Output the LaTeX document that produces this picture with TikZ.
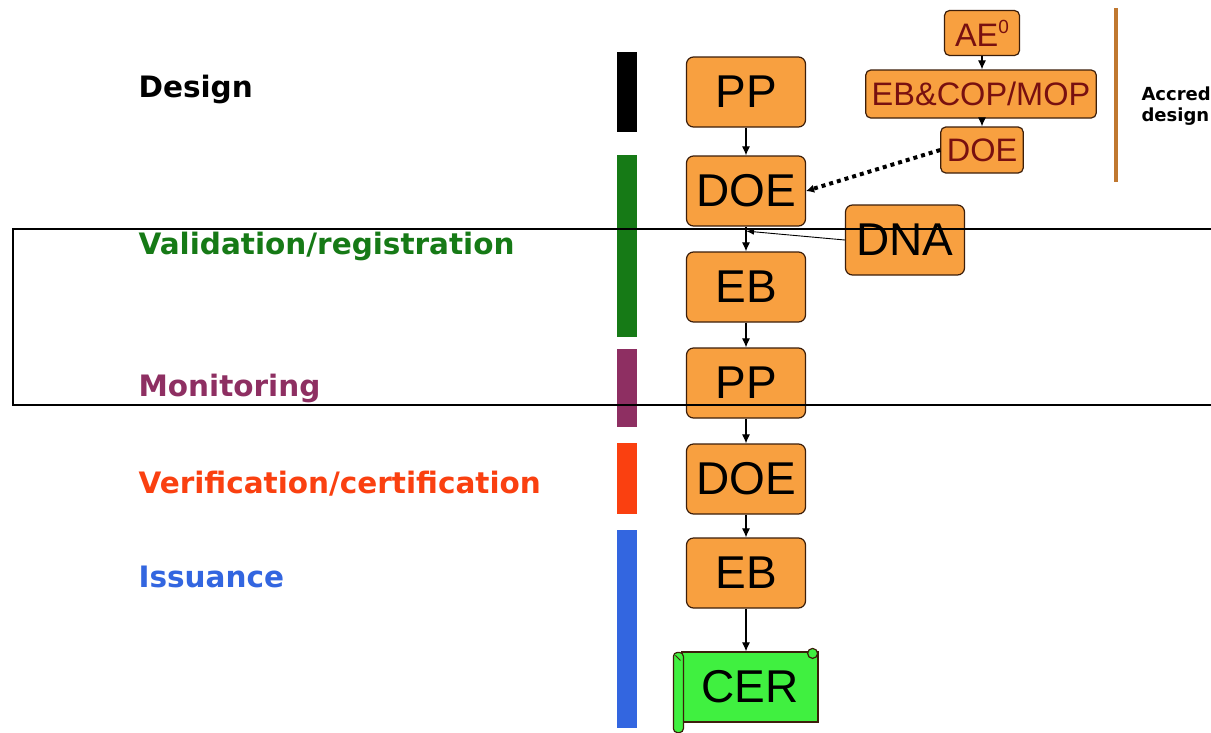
\documentclass[tikz,border=0pt]{standalone}
\usepackage{fontspec}
\setmainfont{Liberation Sans}
\newfontfamily\etiqfont{DejaVu Sans}
\usetikzlibrary{arrows.meta}
\usetikzlibrary{calc,shapes}
\definecolor{orangeboite}{RGB}{248,160,64}
\definecolor{bordboite}{RGB}{60,30,10}
\definecolor{rougefonce}{RGB}{120,16,16}
\definecolor{vertcer}{RGB}{64,240,64}
\definecolor{vertfonce}{RGB}{22,122,22}
\definecolor{violet}{RGB}{142,47,98}
\definecolor{rougeorange}{RGB}{250,64,16}
\definecolor{bleu}{RGB}{51,102,224}
\definecolor{brun}{RGB}{192,120,48}

\begin{document}
\begin{tikzpicture}[x=1pt,y=-1pt,
	boite/.style={draw=bordboite,fill=orangeboite,rounded corners=7pt,line width=1.2pt,
		minimum width=119pt,minimum height=70pt,inner sep=0pt,font=\fontsize{46}{46}\selectfont},
	petite/.style={draw=bordboite,fill=orangeboite,rounded corners=5pt,line width=1.2pt,
		minimum width=75pt,minimum height=45pt,inner xsep=6pt,inner ysep=0pt,
		text=rougefonce,font=\fontsize{32.5}{32.5}\selectfont},
	fleche/.style={-{Latex[length=9pt,width=8pt]},line width=1.1pt},
	etiquette/.style={anchor=base west,font=\etiqfont\bfseries\fontsize{29.5}{30}\selectfont}]
				\clip (0,0) rectangle (1211,732);
				\fill[white] (0,0) rectangle (1211,732);
				% Etapes
				\node[etiquette,text=black] (labdesign) at (135,97) {Design};
				\node[etiquette,text=vertfonce] (labvalid) at (135,254) {Validation/registration};
				\node[etiquette,text=violet] (labmonit) at (135,396) {Monitoring};
				\node[etiquette,text=rougeorange] (labverif) at (135,493) {Verification/certification};
				\node[etiquette,text=bleu] (labissue) at (135,587) {Issuance};
				% Barres
				\fill[black] (617,52) rectangle (637,132);
				\fill[vertfonce] (617,155) rectangle (637,337);
				\fill[violet] (617,349) rectangle (637,427);
				\fill[rougeorange] (617,443) rectangle (637,514);
				\fill[bleu] (617,530) rectangle (637,728);
				% Boites
				\node[boite] (pp1) at (746,92) {PP};
				\node[boite] (doe1) at (746,191) {DOE};
				\node[boite] (eb1) at (746,287) {EB};
				\node[boite] (pp2) at (746,383) {PP};
				\node[boite] (doe2) at (746,479) {DOE};
				\node[boite] (eb2) at (746,573) {EB};
				\node[boite] (dna) at (905,240) {DNA};
				% CER
				\node[draw=bordboite,fill=vertcer,line width=1.2pt,minimum width=136pt,minimum height=70pt,
					inner sep=0pt,font=\fontsize{46}{46}\selectfont] (cer) at (750,687) {CER};
				\draw[draw=bordboite,fill=vertcer,line width=1.2pt] ($(cer.north east)+(-6,2)$) circle (5);
				\draw[draw=bordboite,fill=vertcer,line width=1.2pt,rounded corners=4pt]
					($(cer.north west)+(-8,1)$) rectangle ($(cer.south west)+(2,10)$);
				\draw[draw=bordboite,line width=1pt] ($(cer.north west)+(-6,4)$) -- ($(cer.north west)+(-1,9)$);
				% Accreditation
				\node[petite] (ae) at (982,33) {AE\raisebox{0.75ex}{\fontsize{19}{19}\selectfont 0}};
				\node[petite,minimum height=48pt] (ebcop) at (981,94) {EB\&COP/MOP};
				\node[petite,minimum height=46pt] (does) at (982,150) {DOE};
				\draw[brun,line width=4pt] (1116,8) -- (1116,182);
				\node[anchor=base west,font=\etiqfont\bfseries\fontsize{18}{18}\selectfont] (accred) at (1138,100) {Accred};
				\node[anchor=base west,font=\etiqfont\bfseries\fontsize{18}{18}\selectfont] (desig) at (1138,121) {design};
				% Flèches
				\draw[fleche] (pp1) -- (doe1);
				\draw[fleche] (doe1) -- (eb1);
				\draw[fleche] (eb1) -- (pp2);
				\draw[fleche] (pp2) -- (doe2);
				\draw[fleche] (doe2) -- (eb2);
				\draw[fleche] (eb2.south) -- (eb2.south |- cer.north);
				\draw[fleche] (ae) -- (ae |- ebcop.north);
				\draw[fleche] (ebcop.south -| does) -- (does);
				\coordinate (dnafin) at ($(doe1.south)!0.18!(eb1.north)$);
				\draw[-{Latex[length=8pt,width=6pt]},line width=0.9pt] (dna.west) -- (dnafin);
				\draw[line width=4pt,dash pattern=on 4pt off 4pt] (does.west) -- ($(doe1.east)+(8,-2.5)$);
				\draw[-{Latex[length=8pt,width=8pt]},line width=1pt] ($(doe1.east)+(9,-2.5)$) -- (doe1.east);
				% Cadre
				\draw[line width=2pt] (13,229) rectangle (1216,405);
\end{tikzpicture}
\end{document}
